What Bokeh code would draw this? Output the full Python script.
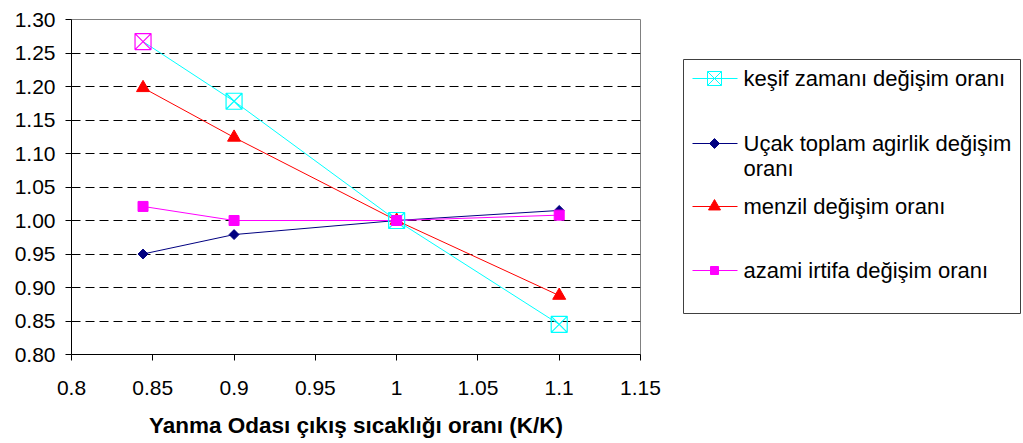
import math
from bokeh.plotting import figure
from bokeh.layouts import row
from bokeh.models import Range1d, FixedTicker, NumeralTickFormatter
from bokeh.core.properties import value
from bokeh.embed import file_html
from bokeh.resources import INLINE

# Ratio of combustor exit temperature (K/K)
x_vals = [0.844, 0.9, 1.0, 1.1]

# Change ratios of the aircraft parameters
kesif = [1.267, 1.178, 1.000, 0.845]
ucak = [0.950, 0.979, 1.000, 1.015]
menzil = [1.198, 1.124, 1.000, 0.888]
azami = [1.021, 1.000, 1.000, 1.008]

series_names = [
    "keşif zamanı değişim oranı",
    "Uçak toplam agirlik değişim\noranı",
    "menzil değişim oranı",
    "azami irtifa değişim oranı",
]

x_ticks = [0.8, 0.85, 0.9, 0.95, 1.0, 1.05, 1.1, 1.15]
x_tick_labels = ["0.8", "0.85", "0.9", "0.95", "1", "1.05", "1.1", "1.15"]
y_ticks = [0.80, 0.85, 0.90, 0.95, 1.00, 1.05, 1.10, 1.15, 1.20, 1.25, 1.30]

x_title = "Yanma Odası çıkış sıcaklığı oranı (K/K)"

FONT = "Liberation Sans"
CYAN, NAVY, RED, MAGENTA = "#00FFFF", "#000080", "#FF0000", "#FF00FF"

# marker styles: (values, colour, marker, size, angle, fill, legend size)
styles = [
    (kesif, CYAN, "square_x", 16, 0.0, None, 14),
    (ucak, NAVY, "square", 7, math.pi / 4, NAVY, 7),
    (menzil, RED, "triangle", 13, 0.0, RED, 12),
    (azami, MAGENTA, "square", 10, 0.0, MAGENTA, 8),
]
# outline of the first reconnaissance marker is highlighted
kesif_outline = [MAGENTA, CYAN, CYAN, CYAN]

FRAME_TOP, FRAME_BOTTOM = 19, 89

p = figure(width=680, height=443, output_backend="svg", toolbar_location=None,
           x_range=Range1d(0.8, 1.15), y_range=Range1d(0.8, 1.30),
           min_border_left=71, min_border_right=40, min_border_top=FRAME_TOP,
           min_border_bottom=FRAME_BOTTOM)
p.background_fill_color = "white"
p.border_fill_color = "white"
p.outline_line_color = "#808080"
p.outline_line_width = 1

p.xgrid.visible = False
p.ygrid.ticker = FixedTicker(ticks=y_ticks[1:-1])
p.ygrid.grid_line_color = "black"
p.ygrid.grid_line_dash = "9 5"
p.ygrid.grid_line_width = 1

p.xaxis.ticker = FixedTicker(ticks=x_ticks)
p.xaxis.major_label_overrides = dict(zip(x_ticks, x_tick_labels))
p.yaxis.ticker = FixedTicker(ticks=y_ticks)
p.yaxis.formatter = NumeralTickFormatter(format="0.00")

for ax in (p.xaxis[0], p.yaxis[0]):
    ax.axis_line_color = "black"
    ax.axis_line_width = 1
    ax.major_tick_line_color = "black"
    ax.major_tick_in = 0
    ax.major_tick_out = 6
    ax.minor_tick_line_color = None
    ax.major_label_text_font = FONT
    ax.major_label_text_font_size = "21px"
    ax.major_label_text_color = "black"

p.xaxis.major_label_standoff = 20
p.yaxis.major_label_standoff = 10
p.xaxis.axis_label = x_title
p.xaxis.axis_label_text_font = FONT
p.xaxis.axis_label_text_font_size = "22.5px"
p.xaxis.axis_label_text_font_style = "bold"
p.xaxis.axis_label_text_color = "black"
p.xaxis.axis_label_standoff = 15

for vals, color, marker, size, angle, fill, _ in styles:
    p.line(x_vals, vals, line_color=color, line_width=1)
for vals, color, marker, size, angle, fill, _ in styles:
    if marker == "square_x":
        p.scatter(x_vals, vals, marker=marker, size=size, line_color=kesif_outline,
                  fill_color=None, line_width=1.2)
    else:
        p.scatter(x_vals, vals, marker=marker, size=size, angle=angle,
                  line_color=color, fill_color=fill, line_width=1)

# Legend panel, drawn in page pixel coordinates (frame aligned with the plot)
lg = figure(width=343, height=443, output_backend="svg", toolbar_location=None,
            x_range=Range1d(680, 1023), y_range=Range1d(443 - FRAME_BOTTOM, FRAME_TOP),
            min_border_left=0, min_border_right=0, min_border_top=FRAME_TOP,
            min_border_bottom=FRAME_BOTTOM, outline_line_color=None)
lg.axis.visible = False
lg.grid.visible = False
lg.background_fill_color = "white"
lg.border_fill_color = "white"

lg.quad(left=683, right=1020, top=59, bottom=313, fill_color=None,
        line_color="#404040", line_width=1)

entry_y = [78, 143, 206, 270]
line_gap = 25
for (vals, color, marker, size, angle, fill, lsize), name, ey in zip(styles, series_names, entry_y):
    lg.line([692, 737], [ey, ey], line_color=color, line_width=1)
    lg.scatter([714], [ey], marker=marker, size=lsize, angle=angle, line_color=color,
               fill_color=fill, line_width=1)
    for k, part in enumerate(name.split("\n")):
        lg.text([743], [ey + k * line_gap], text=[part], text_font=value(FONT),
                text_font_size="22px", text_color="black",
                text_baseline="middle", text_align="left")

layout = row(p, lg, spacing=0)
open("out.html", "w").write(file_html(layout, INLINE))
